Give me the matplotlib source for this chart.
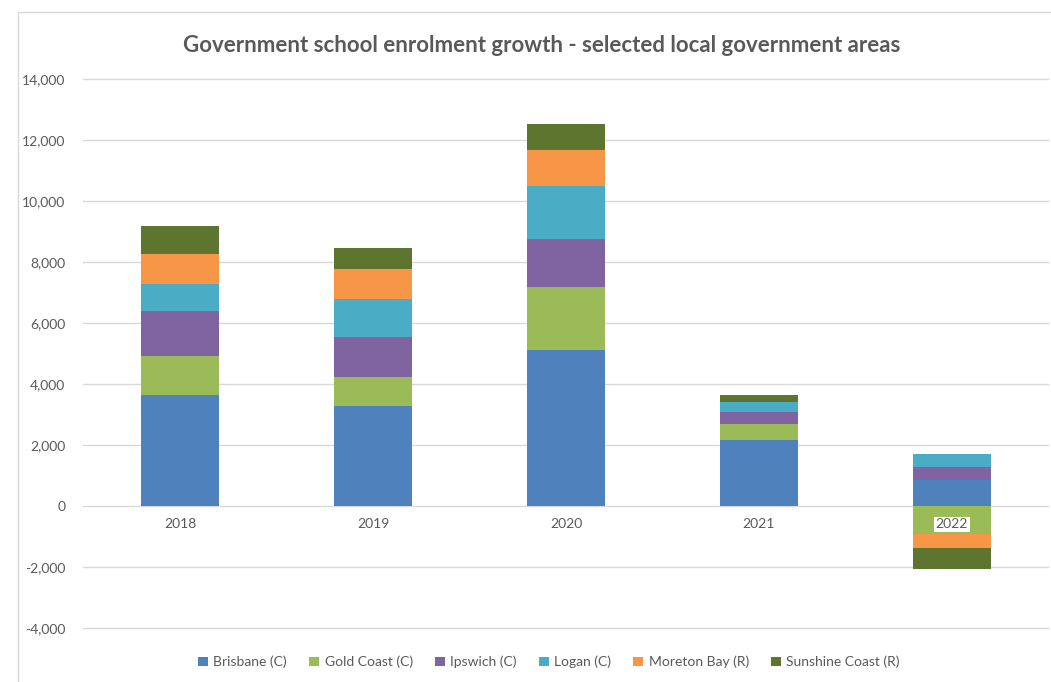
import numpy as np
import matplotlib; matplotlib.use('Agg')
import matplotlib.pyplot as plt
from matplotlib.ticker import FuncFormatter
from matplotlib.patches import Rectangle

years = ['2018', '2019', '2020', '2021', '2022']
series = ['Brisbane (C)', 'Gold Coast (C)', 'Ipswich (C)', 'Logan (C)',
          'Moreton Bay (R)', 'Sunshine Coast (R)']
brisbane = [3650, 3270, 5125, 2160, 865]
gold_coast = [1270, 950, 2055, 525, -930]
ipswich = [1465, 1320, 1565, 385, 415]
logan = [900, 1245, 1740, 350, 415]
moreton_bay = [980, 985, 1170, 0, -450]
sunshine_coast = [920, 690, 885, 220, -680]
colors = ['#4F81BD', '#9BBB59', '#8064A2', '#4BACC6', '#F79646', '#5E7530']

plt.rcParams['font.family'] = ['Lato', 'DejaVu Sans']

fig = plt.figure(figsize=(10.51, 6.82), dpi=100)
fig.patch.set_facecolor('white')
# chart frame
fig.patches.append(Rectangle((18 / 1051, -0.1), 1.2, 1.1 - 12 / 682,
                             transform=fig.transFigure, fill=False,
                             edgecolor='#d9d9d9', lw=1))

ax = fig.add_axes([0.0794, 0.0792, 0.9182, 0.805])
x = np.arange(len(years))
pos_base = np.zeros(len(years))
neg_base = np.zeros(len(years))
for name, vals, c in zip(series, [brisbane, gold_coast, ipswich, logan, moreton_bay, sunshine_coast], colors):
    v = np.array(vals, dtype=float)
    bottom = np.where(v >= 0, pos_base, neg_base)
    ax.bar(x, v, 0.4, bottom=bottom, color=c, label=name, zorder=2)
    pos_base += np.clip(v, 0, None)
    neg_base += np.clip(v, None, 0)

ax.set_xlim(-0.5, 4.5)
ax.set_ylim(-4000, 14000)
ax.set_yticks(np.arange(-4000, 14001, 2000))
ax.yaxis.set_major_formatter(FuncFormatter(lambda v, p: f'{int(v):,}'))
ax.grid(axis='y', color='#d9d9d9', lw=1)
for gl in ax.yaxis.get_gridlines():
    gl.set_clip_on(False)
ax.set_axisbelow(True)
for s in ax.spines.values():
    s.set_visible(False)
ax.spines['bottom'].set_position(('data', 0))
ax.set_xticks(x, years)
ax.xaxis.set_zorder(5)
ax.tick_params(axis='both', length=0, labelsize=10, labelcolor='#595959')
ax.tick_params(axis='y', pad=13)
ax.tick_params(axis='x', pad=9)
for lbl in ax.get_xticklabels():
    lbl.set_bbox(dict(facecolor='white', edgecolor='none', pad=1))

fig.text(0.515, 0.934, 'Government school enrolment growth - selected local government areas',
         ha='center', va='center', fontsize=16, fontweight='bold', color='#595959')

ax.legend(loc='center', bbox_to_anchor=(549 / 1051, 1 - 662 / 682),
          bbox_transform=fig.transFigure, ncol=6, frameon=False,
          fontsize=10, labelcolor='#595959', handlelength=0.7, handleheight=0.7,
          handletextpad=0.4, columnspacing=1.6)

fig.savefig('out.png', dpi=100, facecolor='white')
